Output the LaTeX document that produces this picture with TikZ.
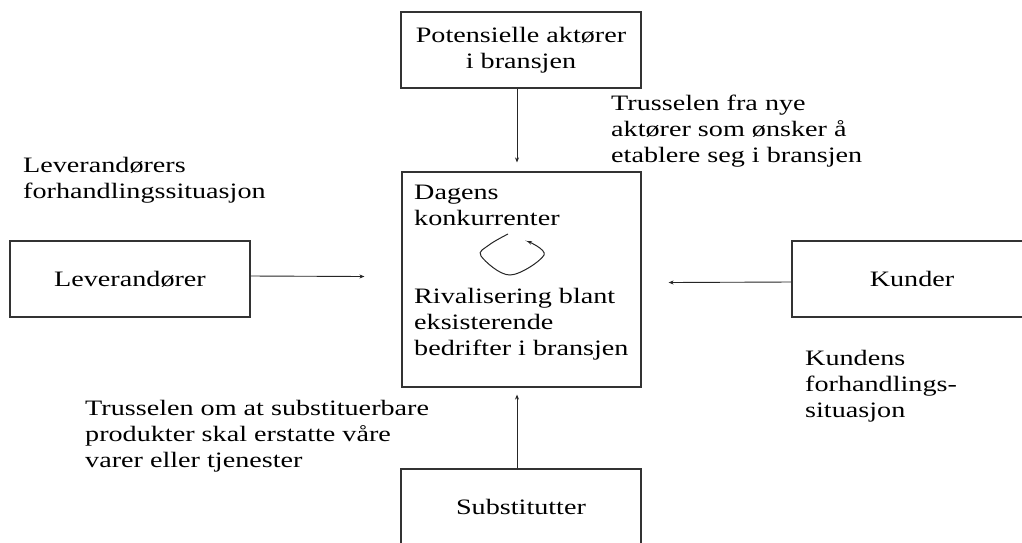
\documentclass[tikz,border=0pt]{standalone}
\usepackage{fontspec}
\setmainfont{Liberation Serif}[FakeStretch=1.28]
\usetikzlibrary{arrows.meta,calc}
\newcommand\tleft[1]{\begin{tabular}[t]{@{}l@{}}#1\end{tabular}}
\begin{document}
\begin{tikzpicture}[x=1pt,y=-1pt,
  every node/.style={font=\fontsize{22}{26}\selectfont, inner sep=0pt},
  box/.style={draw=black!80, line width=1.2pt, minimum width=240pt, minimum height=76pt, align=center},
  lbl/.style={anchor=base west},
  arr/.style={draw=black!85, line width=0.9pt, -{Stealth[length=5pt,width=4pt]}}]
\useasboundingbox[fill=white] (0,0) rectangle (1022,542);
% boxes
\node[box] (top) at (521,50) {Potensielle aktører\\i bransjen};
\node[box, minimum width=239pt, minimum height=215pt] (comp) at (521.5,279.5) {};
\node[box] (lev) at (130,279) {Leverandører};
\node[box] (kun) at (912,279) {Kunder};
\node[box] (sub) at (521,507) {Substitutter};
% texts
\node[lbl] (newthreat) at (611,110) {\tleft{Trusselen fra nye\\aktører som ønsker å\\etablere seg i bransjen}};
\node[lbl] (levsit) at (23,172) {\tleft{Leverandørers\\forhandlingssituasjon}};
\node[lbl] (kunsit) at (805,365) {\tleft{Kundens\\forhandlings-\\situasjon}};
\node[lbl] (subthreat) at (85,415) {\tleft{Trusselen om at substituerbare\\produkter skal erstatte våre\\varer eller tjenester}};
\node[lbl] (dagens) at (414,199) {\tleft{Dagens\\konkurrenter}};
\node[lbl] (rival) at (414,303) {\tleft{Rivalisering blant\\eksisterende\\bedrifter i bransjen}};
% connectors
\draw[arr] ([xshift=-4pt]top.south) -- ([xshift=-4.5pt,yshift=9pt]comp.north);
\draw[arr] ([xshift=-4pt]sub.north) -- ([xshift=-4.5pt,yshift=-7pt]comp.south);
\draw[arr] ([yshift=3pt]lev.east) -- ([xshift=-37pt,yshift=3pt]comp.west);
\draw[arr] ([yshift=-3pt]kun.west) -- ([xshift=27pt,yshift=-3pt]comp.east);
% rivalry loop
\draw[arr, line width=1pt] plot[smooth, tension=0.6] coordinates {(508,234) (489,245) (481,256) (510,275) (544,255) (527,241)};
\end{tikzpicture}
\end{document}
